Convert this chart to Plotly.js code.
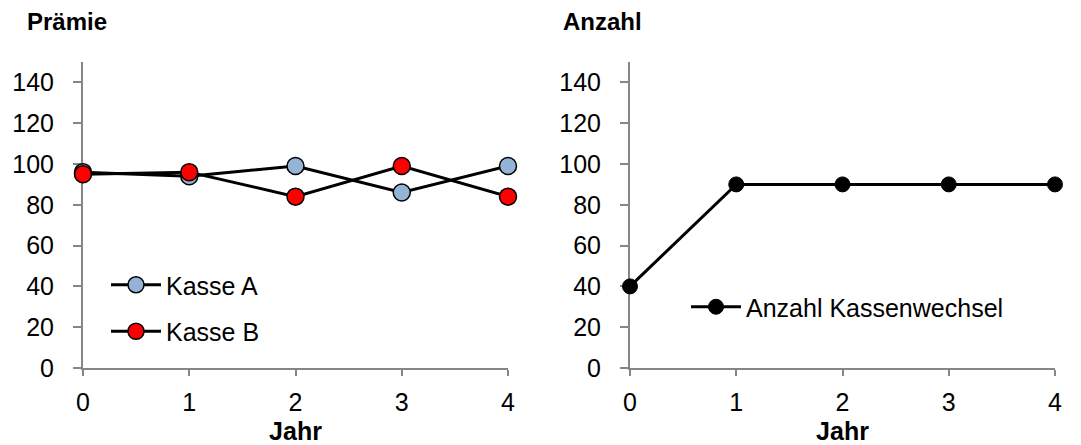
<!DOCTYPE html>
<html>
<head>
<meta charset="utf-8">
<script src="https://cdn.plot.ly/plotly-3.0.1.min.js"></script>
<style>html,body{margin:0;padding:0;background:#fff;}#chart{width:1081px;height:445px;}</style>
</head>
<body>
<div id="chart"></div>
<script>
const jahre = [0, 1, 2, 3, 4];
const kasseA = [96, 94, 99, 86, 99];
const kasseB = [95, 96, 84, 99, 84];
const anzahlWechsel = [40, 90, 90, 90, 90];
const yTicks = [0, 20, 40, 60, 80, 100, 120, 140];

const FONT = '"Liberation Sans", Arial, sans-serif';
const FS = 25;
const W = 1081, H = 445;
const px = v => v / W;
const py = v => 1 - v / H;

const traces = [
  {x: jahre, y: kasseA, name: 'Kasse A', type: 'scatter', mode: 'lines+markers', cliponaxis: false,
   line: {color: '#000', width: 3}, marker: {size: 17, color: '#95b3d7', line: {color: '#000', width: 1.5}},
   xaxis: 'x', yaxis: 'y', legend: 'legend', legendgroup: 'a'},
  {x: jahre, y: kasseB, name: 'Kasse B', type: 'scatter', mode: 'lines+markers', cliponaxis: false,
   line: {color: '#000', width: 3}, marker: {size: 17, color: '#ff0000', line: {color: '#000', width: 1.5}},
   xaxis: 'x', yaxis: 'y', legend: 'legend', legendgroup: 'b'},
  {x: jahre, y: anzahlWechsel, name: 'Anzahl Kassenwechsel', type: 'scatter', mode: 'lines+markers', cliponaxis: false,
   line: {color: '#000', width: 3}, marker: {size: 15, color: '#000', line: {color: '#000', width: 1}},
   xaxis: 'x2', yaxis: 'y2', legend: 'legend2'}
];

const xBase = {
  range: [0, 4], tickvals: jahre, showline: true, linecolor: '#868686', linewidth: 2,
  ticks: 'outside', ticklen: 6, tickcolor: '#868686', tickwidth: 2, ticklabelstandoff: 5,
  showgrid: false, zeroline: false, tickfont: {family: FONT, size: FS, color: '#000'},
  title: {text: '<b>Jahr</b>', font: {family: FONT, size: FS, color: '#000'}, standoff: 8},
  layer: 'below traces', fixedrange: true
};
const yBase = {
  range: [0, 150], tickvals: yTicks, showline: true, linecolor: '#868686', linewidth: 2,
  ticks: 'outside', ticklen: 8, tickcolor: '#868686', tickwidth: 2, ticklabelstandoff: 14,
  showgrid: false, zeroline: false, tickfont: {family: FONT, size: FS, color: '#000'},
  domain: [py(368), py(62)], layer: 'below traces', fixedrange: true
};

const layout = {
  width: W, height: H,
  margin: {l: 0, r: 0, t: 0, b: 0},
  paper_bgcolor: '#fff', plot_bgcolor: '#fff',
  font: {family: FONT, size: FS, color: '#000'},
  xaxis: Object.assign({}, xBase, {domain: [px(83), px(508)], anchor: 'y'}),
  yaxis: Object.assign({}, yBase, {anchor: 'x'}),
  xaxis2: Object.assign({}, xBase, {domain: [px(630), px(1055)], anchor: 'y2'}),
  yaxis2: Object.assign({}, yBase, {anchor: 'x2'}),
  showlegend: true,
  legend: {x: px(106), y: py(262), xanchor: 'left', yanchor: 'top', bgcolor: 'rgba(0,0,0,0)',
           font: {family: FONT, size: FS, color: '#000'}, tracegroupgap: 11, itemwidth: 50},
  legend2: {x: px(686), y: py(284), xanchor: 'left', yanchor: 'top', bgcolor: 'rgba(0,0,0,0)',
            font: {family: FONT, size: FS, color: '#000'}, itemwidth: 50},
  annotations: [
    {text: '<b>Prämie</b>', xref: 'paper', yref: 'paper', x: px(25), y: py(22), xanchor: 'left', yanchor: 'middle',
     showarrow: false, font: {family: FONT, size: 24, color: '#000'}},
    {text: '<b>Anzahl</b>', xref: 'paper', yref: 'paper', x: px(561), y: py(22), xanchor: 'left', yanchor: 'middle',
     showarrow: false, font: {family: FONT, size: 24, color: '#000'}}
  ]
};

Plotly.newPlot('chart', traces, layout, {displayModeBar: false, staticPlot: true});
</script>
</body>
</html>
